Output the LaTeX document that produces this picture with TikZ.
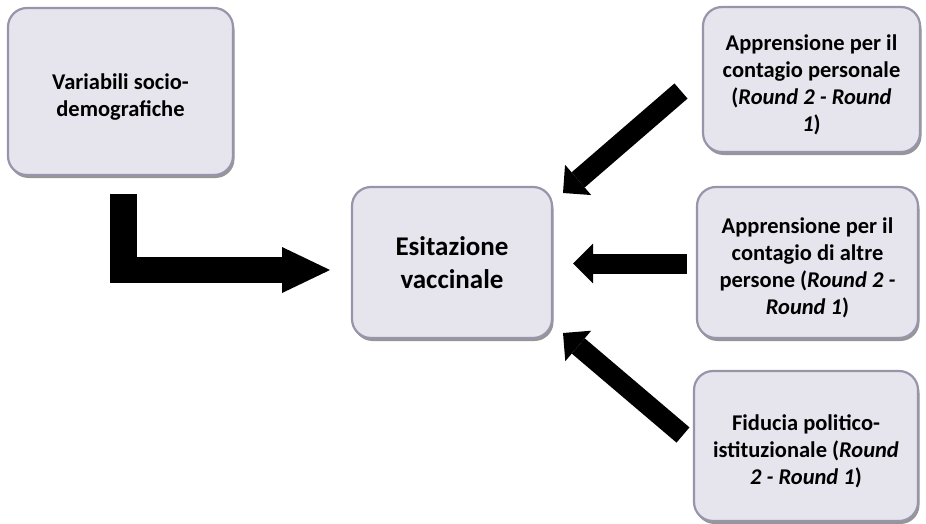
\documentclass[tikz,border=0pt]{standalone}
\usepackage{fontspec}
\setmainfont{Carlito}
\usetikzlibrary{arrows.meta,shadows}
\definecolor{boxfill}{HTML}{E6E4EC}
\definecolor{boxedge}{HTML}{9695AA}
\newcommand\mytopstrut{\rule{0pt}{27pt}}
\begin{document}
\begin{tikzpicture}[x=1pt,y=-1pt,
  box/.style={rounded corners=19pt, fill=boxfill, draw=boxedge, line width=2.2pt,
    drop shadow={shadow xshift=1.5pt, shadow yshift=-3pt, opacity=0.55, fill=black!75},
    align=center, inner sep=4pt,
    font=\fontsize{22.5}{27}\selectfont\bfseries},
  bigbox/.style={box, font=\fontsize{27}{33}\selectfont\bfseries},
  barrow/.style={line width=20pt, -{Triangle[length=20pt,width=40pt,line width=0pt]}},
  larrow/.style={line width=26.5pt, line join=miter, -{Triangle[length=48pt,width=46pt,line width=0pt]}}]
\useasboundingbox (0,0) rectangle (926,524);

\node[box, minimum width=225pt, minimum height=167pt] (V) at (120.5,91.5) {\mytopstrut Variabili socio-\\demografiche};
\node[bigbox, minimum width=200pt, minimum height=151pt] (E) at (452,262.5) {Esitazione\\vaccinale};
\node[box, minimum width=217pt, minimum height=145pt] (A1) at (811.5,79.5) {\mytopstrut Apprensione per il\\contagio personale\\(\textit{Round 2 - Round}\\\textit{1})};
\node[box, minimum width=221pt, minimum height=151pt] (A2) at (807.5,262.5) {\mytopstrut Apprensione per il\\contagio di altre\\persone (\textit{Round 2 -}\\\textit{Round 1})};
\node[box, minimum width=224pt, minimum height=150pt] (F) at (806,446) {\mytopstrut Fiducia politico-\\istituzionale (\textit{Round}\\\textit{2 - Round 1})};

\coordinate (Ls) at (123.5,194);
\coordinate (Le) at (330,270);
\coordinate (T1) at (681,91);
\coordinate (H1) at (563,193);
\coordinate (T2) at (687,263.5);
\coordinate (H2) at (573,263.5);
\coordinate (T3) at (683,435);
\coordinate (H3) at (563,333);

\draw[larrow] (Ls) |- (Le);
\draw[barrow] (T1) -- (H1);
\draw[barrow] (T2) -- (H2);
\draw[barrow] (T3) -- (H3);
\end{tikzpicture}
\end{document}
